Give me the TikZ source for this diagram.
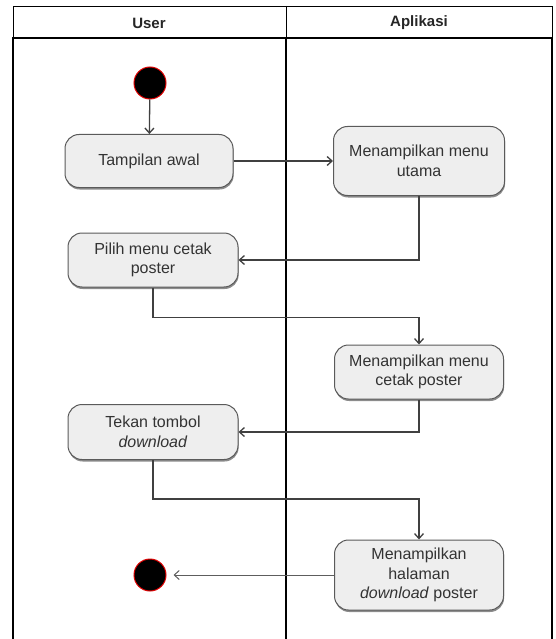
\documentclass[tikz,border=0pt]{standalone}
\usepackage{fontspec}
\setmainfont{Liberation Sans}
\usetikzlibrary{arrows.meta,shadows}
\definecolor{boxfill}{HTML}{EEEEEE}
\definecolor{boxline}{HTML}{5A5A5A}
\definecolor{flow}{HTML}{404040}
\definecolor{nodered}{HTML}{E00000}
\definecolor{txt}{HTML}{333333}

\begin{document}
\begin{tikzpicture}[x=1pt,y=-1pt,
  activity/.style={draw=boxline, line width=1pt, fill=boxfill,
    rounded corners=14pt, minimum width=169pt, align=center,
    font=\fontsize{16}{19.5}\selectfont, text=txt, inner xsep=2pt,
    drop shadow={shadow xshift=0.6pt, shadow yshift=-2pt, fill=black, opacity=0.45}},
  state/.style={circle, fill=black, draw=nodered, line width=1pt,
    minimum size=32pt, inner sep=0pt},
  flowline/.style={draw=flow, line width=1.3pt,
    -{Straight Barb[length=5pt,width=9pt]}},
  thinflow/.style={draw=flow!85, line width=1pt,
    -{Straight Barb[length=5pt,width=9pt]}, shorten >=7pt},
  lane/.style={line width=2pt},
  lanetitle/.style={font=\fontsize{15}{18}\selectfont\bfseries, text=black!85},
]
\useasboundingbox (0,0) rectangle (555,639);

% swimlane frame
\draw[line width=0.8pt] (13,6) rectangle (552,38);
\draw[line width=0.8pt] (286,6) -- (286,38);
\draw[lane] (12,38) -- (553,38);
\draw[lane] (13,38) -- (13,639);
\draw[lane] (286,38) -- (286,639);
\draw[lane] (552,38) -- (552,639);
\node[lanetitle] (laneUser) at (149,23) {User};
\node[lanetitle] (laneApp) at (419,23) {Aplikasi};

% activities
\node[state] (start) at (150,83) {};
\node[activity, minimum height=53pt, minimum width=168pt] (tampil) at (149,161) {Tampilan awal};
\node[activity, minimum height=69pt, minimum width=171pt] (utama) at (419,161) {Menampilkan menu\\utama};
\node[activity, minimum height=54pt, minimum width=170pt] (pilih) at (153,260) {Pilih menu cetak\\poster};
\node[activity, minimum height=54pt] (cetak) at (419,372) {Menampilkan menu\\cetak poster};
\node[activity, minimum height=55pt, minimum width=170pt] (tekan) at (153,432) {Tekan tombol\\\textit{download}};
\node[activity, minimum height=70pt] (unduh) at (419,575) {Menampilkan\\halaman\\\textit{download} poster};
\node[state] (finish) at (150,575) {};

% control flow
\draw[flowline] (start) -- (tampil);
\draw[flowline] (tampil) -- (utama);
\draw[flowline] (utama.south) |- (pilih.east);
\draw[flowline] (pilih.south) -- ++(0,30) -| (cetak.north);
\draw[flowline] (cetak.south) |- (tekan.east);
\draw[flowline] (tekan.south) -- ++(0,39) -| (unduh.north);
\draw[thinflow] (unduh.west) -- (finish);
\end{tikzpicture}
\end{document}
